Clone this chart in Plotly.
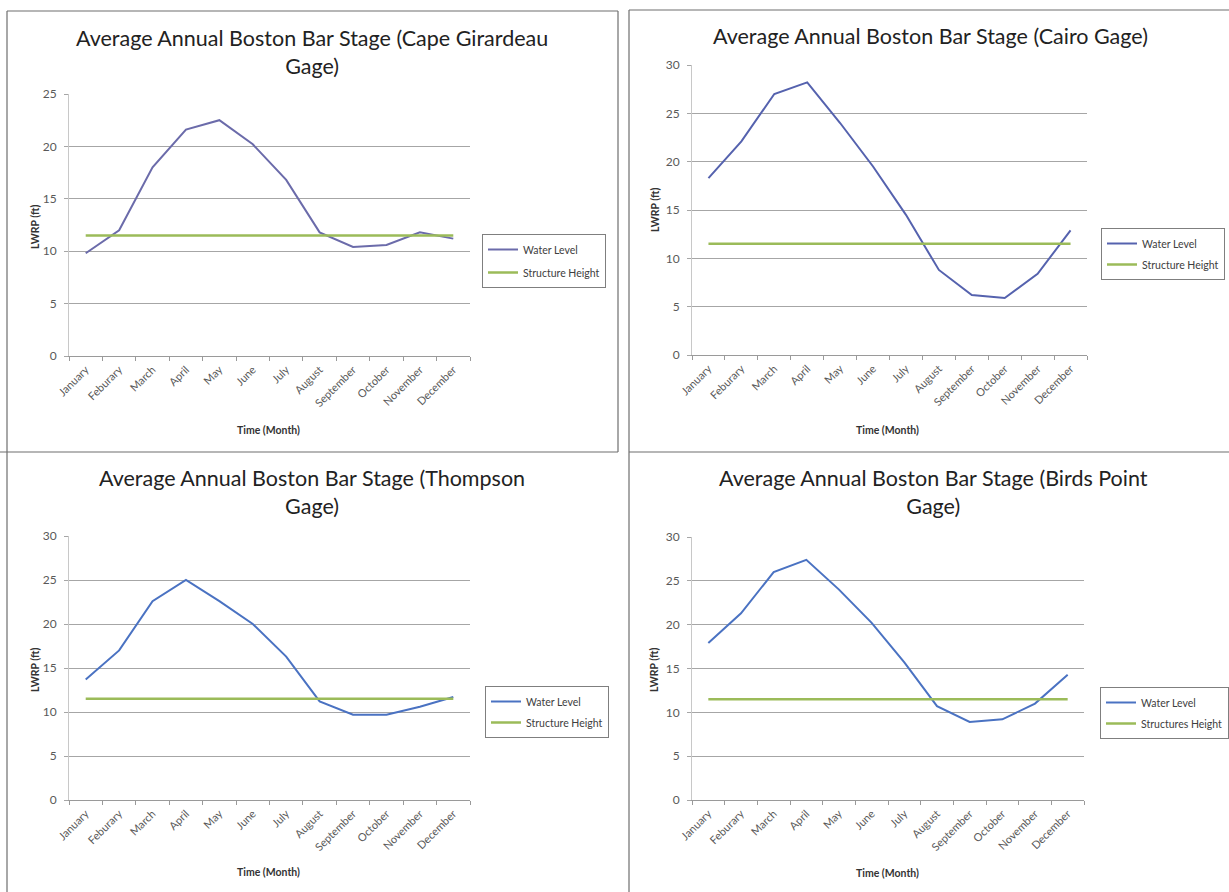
import plotly.graph_objects as go

W, H = 1229, 892

months = ["January", "Feburary", "March", "April", "May", "June", "July",
          "August", "September", "October", "November", "December"]

cape_water = [9.8, 12.0, 18.0, 21.6, 22.5, 20.2, 16.8, 11.8, 10.4, 10.6, 11.8, 11.2]
cairo_water = [18.3, 22.1, 27.0, 28.2, 24.0, 19.5, 14.5, 8.8, 6.2, 5.9, 8.4, 12.9]
thompson_water = [13.7, 17.0, 22.6, 25.0, 22.6, 20.0, 16.3, 11.2, 9.7, 9.7, 10.6, 11.7]
birds_water = [17.9, 21.3, 26.0, 27.4, 24.0, 20.2, 15.7, 10.7, 8.9, 9.2, 11.0, 14.3]
structure_height = [11.5] * 12

titles = ["Average Annual Boston Bar Stage (Cape Girardeau<br>Gage)",
          "Average Annual Boston Bar Stage (Cairo Gage)",
          "Average Annual Boston Bar Stage (Thompson<br>Gage)",
          "Average Annual Boston Bar Stage (Birds Point<br>Gage)"]
water_names = ["Water Level"] * 4
struct_names = ["Structure Height", "Structure Height", "Structure Height", "Structures Height"]
y_max = [25, 30, 30, 30]

FONT = "Lato, 'Open Sans', sans-serif"
water_colors = ["#6B6BAA", "#5562AE", "#4A72C2", "#4A72C2"]
green = "#9BBB59"

# panel geometry in pixels: (plot left, plot right, y of 0, y of max)
panels = [
    dict(l=69, r=470, y0=356, y1=94, title_x=312, title_y=23, lw_x=35, lw_y=227,
         tm_x=268, tm_y=430, leg_x=482, leg_y=234, gap=4),
    dict(l=692, r=1087, y0=355, y1=65, title_x=931, title_y=21, lw_x=655, lw_y=210,
         tm_x=888, tm_y=430, leg_x=1101, leg_y=228, gap=2),
    dict(l=69, r=470, y0=800, y1=536, title_x=312, title_y=463, lw_x=35, lw_y=670,
         tm_x=268, tm_y=872, leg_x=485, leg_y=686, gap=2),
    dict(l=692, r=1084, y0=800, y1=537, title_x=933, title_y=463, lw_x=654, lw_y=670,
         tm_x=887, tm_y=873, leg_x=1100, leg_y=687, gap=2),
]

waters = [cape_water, cairo_water, thompson_water, birds_water]

fig = go.Figure()
annotations = []
layout_axes = {}
for i, p in enumerate(panels):
    n = "" if i == 0 else str(i + 1)
    leg = "legend" + n
    fig.add_trace(go.Scatter(x=months, y=waters[i], mode="lines", name=water_names[i],
                             line=dict(color=water_colors[i], width=2),
                             xaxis="x" + n, yaxis="y" + n, legend=leg, legendgroup=f"w{i}"))
    fig.add_trace(go.Scatter(x=months, y=structure_height, mode="lines", name=struct_names[i],
                             line=dict(color=green, width=2.5),
                             xaxis="x" + n, yaxis="y" + n, legend=leg, legendgroup=f"s{i}"))
    layout_axes["xaxis" + n] = dict(
        domain=[p["l"] / W, p["r"] / W], anchor="y" + n, type="category",
        range=[-0.5, 11.5], showgrid=False, showline=True, linecolor="#9A9A9A", linewidth=1,
        ticks="outside", tickson="boundaries", ticklen=4, tickcolor="#9A9A9A",
        tickangle=-45, ticklabelstandoff=2,
        tickfont=dict(family=FONT, size=11, color="#595959"), zeroline=False,
        automargin=False)
    layout_axes["yaxis" + n] = dict(
        domain=[1 - p["y0"] / H, 1 - p["y1"] / H], anchor="x" + n,
        range=[0, y_max[i]], dtick=5, showgrid=True, gridcolor="#A6A6A6", gridwidth=1,
        showline=True, linecolor="#C8C8C8", linewidth=1, ticks="outside", ticklen=4,
        ticklabelstandoff=5,
        tickcolor="#A6A6A6", tickfont=dict(family=FONT, size=12, color="#595959"),
        zeroline=False, automargin=False)
    layout_axes[leg] = dict(
        x=p["leg_x"] / W, y=1 - p["leg_y"] / H, xanchor="left", yanchor="top",
        xref="container", yref="container",
        bordercolor="#7F7F7F", borderwidth=1, bgcolor="white", tracegroupgap=p["gap"],
        font=dict(family=FONT, size=10.5, color="#404040"), itemwidth=30)
    annotations.append(dict(text=titles[i], x=p["title_x"] / W, y=1 - p["title_y"] / H,
                            xref="paper", yref="paper", xanchor="center", yanchor="top",
                            showarrow=False, font=dict(family=FONT, size=21.5, color="#222222")))
    annotations.append(dict(text="<b>LWRP (ft)</b>", x=p["lw_x"] / W, y=1 - p["lw_y"] / H,
                            xref="paper", yref="paper", xanchor="center", yanchor="middle",
                            textangle=-90, showarrow=False,
                            font=dict(family=FONT, size=10.5, color="#333333")))
    annotations.append(dict(text="<b>Time (Month)</b>", x=p["tm_x"] / W, y=1 - p["tm_y"] / H,
                            xref="paper", yref="paper", xanchor="center", yanchor="middle",
                            showarrow=False, font=dict(family=FONT, size=10.5, color="#333333")))

# panel borders (pixel coordinates converted to paper)
border_lines = [
    (7, 11, 7, 892), (7, 11, 618, 11), (618, 11, 618, 452), (0, 452, 618, 452),
    (629, 10, 629, 892), (629, 10, 1229, 10), (629, 452, 1229, 452),
]
shapes = [dict(type="line", xref="paper", yref="paper", x0=a / W, y0=1 - b / H,
               x1=c / W, y1=1 - d / H, line=dict(color="#6E6E6E", width=1.2))
          for a, b, c, d in border_lines]

fig.update_layout(
    width=W, height=H, margin=dict(l=0, r=0, t=0, b=0, autoexpand=False),
    paper_bgcolor="white", plot_bgcolor="white", showlegend=True,
    annotations=annotations, shapes=shapes, **layout_axes)

fig.write_html("out.html", config={"displayModeBar": False},
               post_script="document.body.style.margin='0';document.body.style.overflow='hidden';")
